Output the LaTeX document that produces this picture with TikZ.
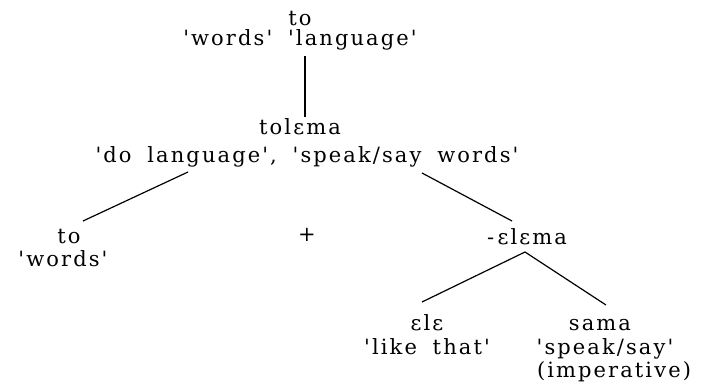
\documentclass[tikz,border=0pt]{standalone}
\usepackage{fontspec}
\setmainfont{DejaVu Serif}[Ligatures=TeXOff,LetterSpace=10,WordSpace=1.8]
\newcommand\opene{\char"025B\relax}
\begin{document}
\begin{tikzpicture}[x=1pt,y=-1pt,
  lab/.style={inner sep=0pt,font=\fontsize{21}{25}\selectfont,anchor=base},
  link/.style={line width=1.2pt}]
\useasboundingbox (0,0) rectangle (701,387);
\node[lab] (top) at (300,26) {to};
\node[lab] (topg) at (300,46) {'words' 'language'};
\node[lab] (tol) at (300,135) {tol\opene ma};
\node[lab] (tolg) at (307,163) {'do language', 'speak/say words'};
\node[lab] (to2) at (69,244) {to};
\node[lab] (to2g) at (63,267) {'words'};
\node[lab] (plus) at (307,242) {+};
\node[lab] (elema) at (527,245) {-\,\opene l\opene ma};
\node[lab] (ele) at (427,330) {\opene l\opene};
\node[lab] (eleg) at (427,354) {'like that'};
\node[lab] (sama) at (600,330) {sama};
\node[lab] (samag) at (605,354) {'speak/say'};
\node[lab] (samai) at (614,377) {(imperative)};
\coordinate (v1) at (305,56);
\coordinate (v2) at (305,117);
\coordinate (l1) at (188,172);
\coordinate (l2) at (83,221);
\coordinate (r1) at (422,173);
\coordinate (r2) at (512,221);
\coordinate (e0) at (525,252);
\coordinate (e1) at (422,302);
\coordinate (e2) at (606,305);
\draw[link] (v1) -- (v2);
\draw[link] (l1) -- (l2);
\draw[link] (r1) -- (r2);
\draw[link] (e0) -- (e1);
\draw[link] (e0) -- (e2);
\end{tikzpicture}
\end{document}
